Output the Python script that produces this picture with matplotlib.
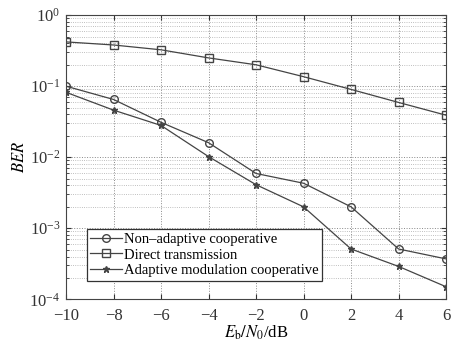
import numpy as np
import matplotlib.pyplot as plt
from matplotlib.ticker import LogLocator, NullFormatter

plt.rcParams['font.family'] = ['Liberation Serif', 'DejaVu Serif']
plt.rcParams['mathtext.fontset'] = 'stix'

snr = [-10, -8, -6, -4, -2, 0, 2, 4, 6]
ber_nonadaptive = [0.10, 0.065, 0.031, 0.016, 0.0059, 0.0043, 0.0020, 0.00051, 0.00037]
ber_direct = [0.42, 0.38, 0.325, 0.25, 0.20, 0.136, 0.090, 0.059, 0.039]
ber_adaptive = [0.082, 0.046, 0.028, 0.0102, 0.0041, 0.0020, 0.00051, 0.00029, 0.00015]

fig = plt.figure(figsize=(4.52, 3.44), dpi=100)
ax = fig.add_axes([0.146, 0.13, 0.841, 0.826])

c = '#444444'
ax.semilogy(snr, ber_nonadaptive, color=c, lw=0.9, marker='o', ms=5.5, mfc='none', mec=c,
            label='Non\u2013adaptive cooperative')
ax.semilogy(snr, ber_direct, color=c, lw=0.9, marker='s', ms=5.5, mfc='none', mec=c,
            label='Direct transmission')
ax.semilogy(snr, ber_adaptive, color=c, lw=0.9, marker='*', ms=5, mfc=c, mec=c,
            label='Adaptive modulation cooperative')

ax.set_xlim(-10, 6)
ax.set_ylim(1e-4, 1)
ax.set_xticks(snr)
ax.set_xticklabels(['\u221210', '\u22128', '\u22126', '\u22124', '\u22122', '0', '2', '4', '6'])
ax.yaxis.set_major_locator(LogLocator(base=10, numticks=10))
ax.yaxis.set_minor_locator(LogLocator(base=10, subs=np.arange(2, 10), numticks=10))
ax.yaxis.set_minor_formatter(NullFormatter())

ax.grid(True, which='major', ls=':', color='#888888', lw=0.7)
ax.grid(True, which='minor', axis='y', ls=':', color='#aaaaaa', lw=0.6)
ax.tick_params(which='both', direction='in', top=True, right=True, labelsize=12, colors='#333333')
ax.tick_params(axis='x', pad=6)
ax.tick_params(axis='y', pad=4)
ax.tick_params(which='minor', length=2)
for s in ax.spines.values():
    s.set_color('#444444')
    s.set_linewidth(0.8)

ax.set_xlabel('$E_\\mathrm{b}/N_\\mathrm{0}$/dB', fontsize=12, labelpad=0)
ax.set_ylabel('$BER$', fontsize=12, labelpad=1)

leg = ax.legend(loc='lower left', bbox_to_anchor=(0.035, 0.04), fontsize=10.5, frameon=True,
                fancybox=False, edgecolor='#333333', framealpha=1, handlelength=2.2,
                handletextpad=0.1, borderpad=0.25, labelspacing=0.15)
leg.get_frame().set_linewidth(0.9)

fig.savefig('out.png', dpi=100)
